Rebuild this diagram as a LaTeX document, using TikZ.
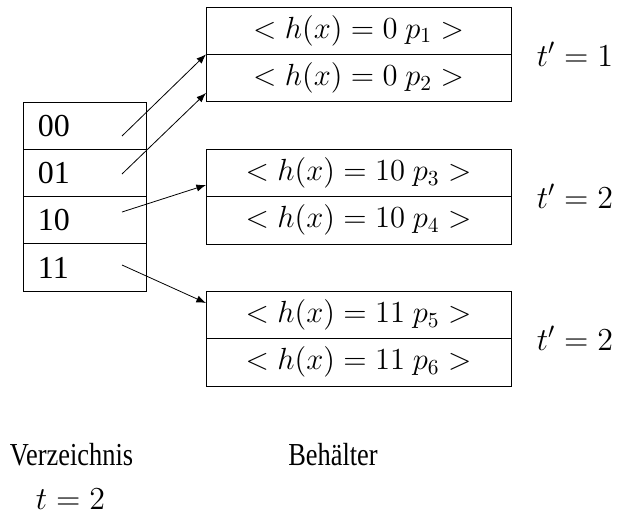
\RequirePackage{fix-cm}
\documentclass[tikz,border=0pt]{standalone}
\usepackage{fontspec}
\setmainfont{Liberation Serif}
\usetikzlibrary{arrows.meta,positioning}

\begin{document}
\begin{tikzpicture}[x=0.5pt,y=-0.5pt,>=Latex,font=\fontsize{16}{19}\selectfont,
  dirrow/.style={draw,outer sep=0pt,minimum height=23.65pt,inner xsep=7.5pt,text width=46.75pt,align=left},
  bucket/.style={draw,outer sep=0pt,minimum width=152.5pt,minimum height=23.65pt,inner sep=0pt,font=\fontsize{15.3}{18}\selectfont},
  lbl/.style={inner sep=0pt}]
  \useasboundingbox (0,0) rectangle (621,515);
  % Verzeichnis
  \node[dirrow] (d00) at (84.75,125.6) {00};
  \node[dirrow,below=0pt of d00] (d01) {01};
  \node[dirrow,below=0pt of d01] (d10) {10};
  \node[dirrow,below=0pt of d10] (d11) {11};
  % Behaelter
  \node[bucket] (b1a) at (358.5,30.7) {$<h(x)=0\ p_1>$};
  \node[bucket,below=0pt of b1a] (b1b) {$<h(x)=0\ p_2>$};
  \node[bucket] (b2a) at (358.5,173) {$<h(x)=10\ p_3>$};
  \node[bucket,below=0pt of b2a] (b2b) {$<h(x)=10\ p_4>$};
  \node[bucket] (b3a) at (358.5,315) {$<h(x)=11\ p_5>$};
  \node[bucket,below=0pt of b3a] (b3b) {$<h(x)=11\ p_6>$};
  \node[lbl] (t1) at (575,54) {$t'=1$};
  \node[lbl] (t2) at (575,196.5) {$t'=2$};
  \node[lbl] (t3) at (575,338.5) {$t'=2$};
  % Zeiger
  \coordinate (s00) at (122,136);
  \coordinate (s01) at (122,174);
  \coordinate (s10) at (122,212);
  \coordinate (s11) at (122,265);
  \coordinate (e01) at (206,93);
  \coordinate (e10) at (206,185);
  \coordinate (e11) at (206,303);
  \draw[->] (s00)--(b1a.south west);
  \draw[->] (s01)--(e01);
  \draw[->] (s10)--(e10);
  \draw[->] (s11)--(e11);
  % Beschriftung
  \node[lbl,anchor=base] (verz) at (71.5,465) {\scalebox{0.825}[1]{Verzeichnis}};
  \node[lbl,anchor=base] (beh) at (333,465) {\scalebox{0.825}[1]{Behälter}};
  \node[lbl,anchor=base] (tt) at (70.5,509) {$t=2$};
\end{tikzpicture}
\end{document}
